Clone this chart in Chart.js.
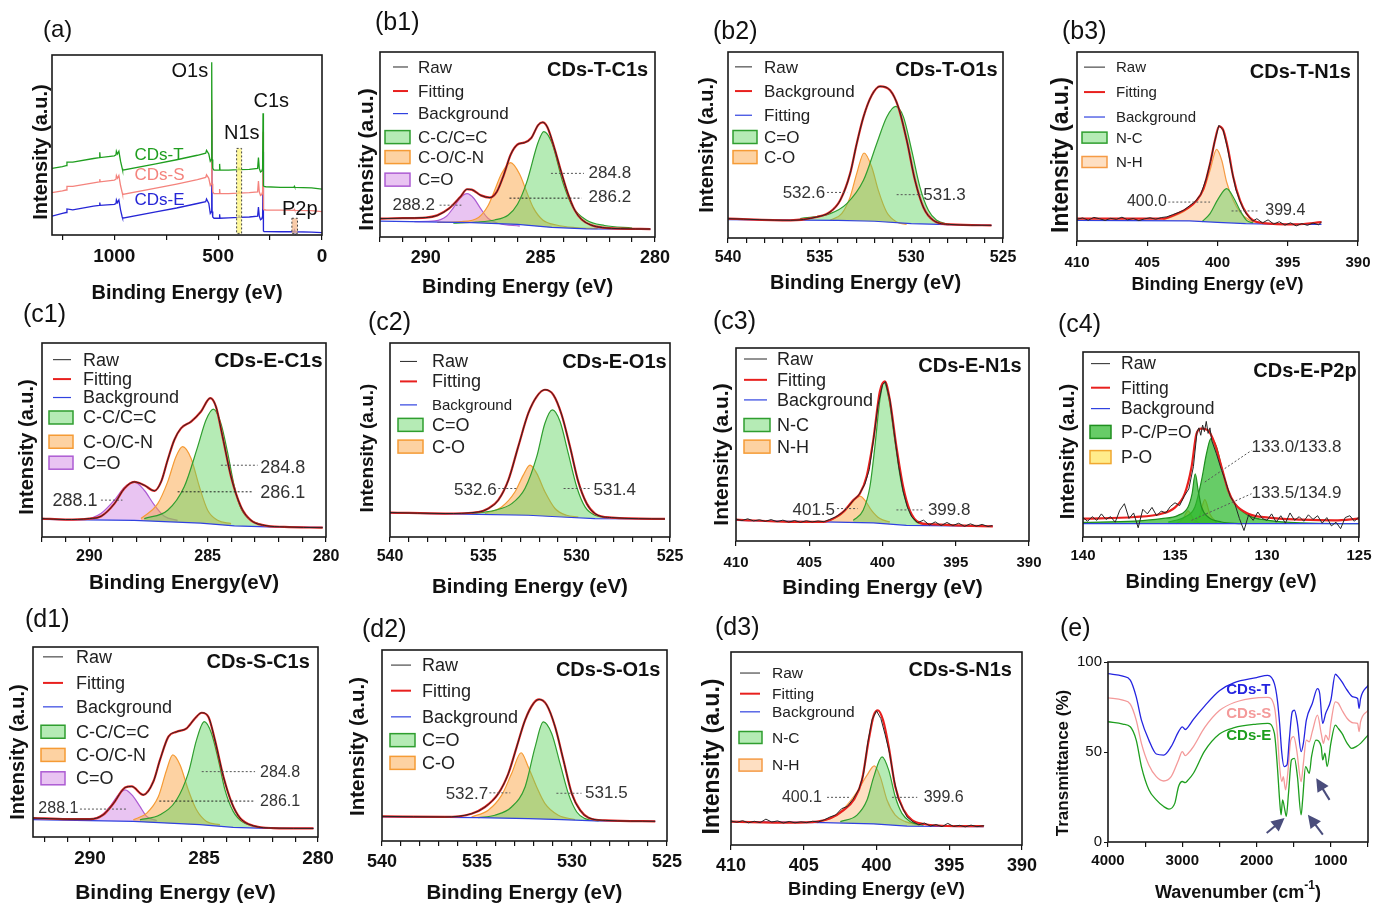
<!DOCTYPE html>
<html>
<head>
<meta charset="utf-8">
<script src="https://cdn.jsdelivr.net/npm/chart.js@4.4.1/dist/chart.umd.min.js"></script>
<style>
html, body { margin: 0; padding: 0; background: #fff; }
#fig { position: relative; width: 1373px; height: 904px; overflow: hidden; background: #fff; }
#fig canvas { position: absolute; }
</style>
</head>
<body>
<div id="fig">
  <canvas id="pa"></canvas><canvas id="pb1"></canvas><canvas id="pb2"></canvas><canvas id="pb3"></canvas>
  <canvas id="pc1"></canvas><canvas id="pc2"></canvas><canvas id="pc3"></canvas><canvas id="pc4"></canvas>
  <canvas id="pd1"></canvas><canvas id="pd2"></canvas><canvas id="pd3"></canvas><canvas id="pe"></canvas>
</div>
<script>
// ---- (a) survey spectra: binding energy and offset intensities (% of panel height)
var svE  = [1300,1250,1232,1228,1200,1100,1072,1070,1068,1000,992,990,985,978,970,962,960,800,700,600,560,556,545,538,533,531,529,526,520,495,493,491,450,402,400,398,350,310,306,302,296,290,286,284,282,279,270,200,135,133,131,50,0];
var svT  = [37.0,38.0,38.5,40.5,40.5,42.5,43.0,46.0,43.0,44.0,44.5,46.5,45.0,46.5,41.0,37.0,36.0,39.5,41.8,44.3,45.5,47.0,45.0,41.0,42.0,96.0,42.0,37.0,36.0,36.0,39.5,36.0,36.0,36.3,37.5,36.3,36.5,37.0,43.0,37.0,35.0,35.5,37.0,67.6,27.5,27.0,26.8,26.5,26.5,27.0,26.5,26.2,25.5];
var svS  = [23.5,24.5,25.0,27.0,27.0,29.0,29.5,31.0,29.5,30.5,31.0,33.0,31.5,33.0,27.5,23.5,22.5,26.0,28.3,30.8,32.0,33.5,31.5,27.5,28.5,75.0,28.5,24.0,23.0,23.0,25.5,23.0,23.0,23.3,24.5,23.3,23.5,24.0,30.0,24.0,22.0,22.5,24.0,57.4,14.5,14.0,13.9,13.8,13.7,14.2,13.7,13.5,13.0];
var svEE = [10.5,12.0,12.5,14.5,14.0,16.0,16.5,18.0,16.5,17.0,17.5,19.5,18.0,19.5,14.0,10.0,9.3,12.8,15.0,17.5,18.5,20.0,17.5,12.0,13.0,64.0,13.0,10.0,9.3,9.3,11.5,9.3,9.5,9.8,11.0,9.8,10.0,10.5,15.5,10.5,8.5,9.0,10.5,46.3,2.2,1.9,1.9,1.8,1.8,2.6,1.8,1.6,1.3];
var svN1sBox = [411, 387, 0.9, 48.1];
var svP2pBox = [145, 118, 0.9, 9.3];

// ---- (b1) CDs-T C1s
var b1Fit = [[292,9.9],[291,10.2],[290,10.5],[289.5,11.7],[289,15.3],[288.5,21.6],[288.2,25.8],[288,25.6],[287.6,22.5],[287.2,21.3],[286.9,24.5],[286.6,33.5],[286.3,44.5],[286,50.0],[285.7,51.0],[285.4,53.5],[285.1,60.5],[284.9,62.0],[284.7,59.5],[284.4,48.5],[284.1,35.5],[283.8,23.5],[283.5,14.5],[283.2,9.5],[282.8,6.5],[282.3,5.1],[281.5,4.5],[280.2,4.3]];
var b1Bg  = [[292,8.6],[288,7.8],[286,6.8],[284.5,5.2],[283,4.4],[280.2,4.2]];
var b1CC  = [[288.8,7.5],[287.8,8.1],[287,9.2],[286.4,11.9],[286,17.7],[285.6,29.5],[285.1,51.2],[284.85,57.0],[284.5,50.9],[284,28.7],[283.6,16.5],[283,9.2],[282.2,6.2],[281,4.8]];
var b1CO  = [[289.5,7.9],[288.5,8.3],[287.7,10.6],[287.3,16.6],[287,25.1],[286.7,34.2],[286.3,40.2],[285.9,33.8],[285.6,24.4],[285.3,15.6],[284.9,9.2],[284.3,6.5],[283.5,5.1],[282.5,4.5]];
var b1CdO = [[290.5,8.3],[289.6,8.7],[289.1,11.2],[288.8,15.8],[288.5,21.1],[288.2,23.4],[287.9,20.8],[287.6,15.2],[287.3,10.3],[286.8,7.3],[285.9,5.9]];

// ---- (b2) CDs-T O1s
var b2Fit = [[540,10.4],[536.6,9.5],[535.15,11.3],[534.43,14.0],[533.88,20.3],[533.34,34.6],[532.98,50.7],[532.61,65.1],[532.16,76.7],[531.71,81.5],[531.16,79.4],[530.71,70.4],[530.25,52.5],[529.8,31.0],[529.35,16.7],[528.8,9.5],[527.9,7.3],[525.63,6.8]];
var b2Bg  = [[540,9.9],[534,9.5],[532,9.0],[530,7.7],[528,7.2],[525.63,6.8]];
var b2CdO = [[536.06,10.4],[534.43,13.1],[533.52,18.5],[532.61,31.0],[531.89,50.7],[531.34,65.1],[530.85,70.8],[530.43,65.1],[529.98,47.1],[529.53,27.4],[529.07,14.9],[528.62,9.5],[527.9,7.3]];
var b2CO  = [[534.43,9.5],[533.8,13.1],[533.34,22.0],[532.98,34.6],[532.58,45.7],[532.16,38.2],[531.8,25.6],[531.35,14.0],[530.8,8.6],[530.26,7.3]];

// ---- (b3) CDs-T N1s
var b3Raw = [[410,11.5],[409.6,12.2],[409.2,11.0],[408.8,12.5],[408.4,11.8],[408,10.9],[407.6,12.0],[407.2,11.4],[406.8,12.6],[406.4,11.2],[406,11.9],[405.6,10.8],[405.2,11.7],[404.8,12.3],[404.4,11.5],[404,12.4],[403.6,12.8],[403.2,13.9],[402.8,15.0],[402.4,16.3],[402,18.6],[401.6,20.8],[401.2,24.5],[400.8,33.0],[400.5,42.0],[400.2,52.8],[399.9,61.2],[399.6,58.8],[399.3,49.5],[399,38.0],[398.7,27.5],[398.4,21.0],[398.1,16.0],[397.8,13.0],[397.5,10.5],[397.2,11.8],[396.8,9.6],[396.4,11.2],[396,9.0],[395.6,10.2],[395.2,8.4],[394.8,9.6],[394.4,8.0],[394,9.2],[393.6,8.3],[393.2,9.5],[392.8,8.6],[392.6,10.0]];
var b3Fit = [[410,11.8],[406,11.8],[403.85,11.8],[403.14,13.6],[402.19,17.1],[401.48,21.5],[401,27.7],[400.53,40.9],[400.18,53.3],[399.89,60.7],[399.59,58.6],[399.23,48.0],[398.88,33.9],[398.4,21.5],[397.93,14.5],[397.46,10.9],[396.75,9.5],[394.38,8.8],[392.6,10.0]];
var b3Bg  = [[410,10.9],[402,10.6],[400,9.9],[398,9.2],[395,8.8],[392.6,8.8]];
var b3NC  = [[401.12,10.1],[400.53,14.5],[399.94,22.4],[399.35,27.7],[398.88,23.3],[398.4,16.2],[397.93,10.9],[397.46,9.5]];
var b3NH  = [[403.85,11.3],[402.66,14.5],[401.72,19.4],[401,26.8],[400.53,37.4],[400.06,48.5],[399.7,42.7],[399.35,31.2],[398.88,21.5],[398.4,15.3],[397.69,10.9],[396.98,9.5]];

// ---- (c1) CDs-E C1s
var c1Fit = [[292,9.5],[291,9.0],[290,9.5],[289.5,10.7],[288.94,17.2],[288.52,25.0],[288.1,28.4],[287.68,26.7],[287.25,23.8],[286.97,28.4],[286.69,39.7],[286.41,50.0],[286.13,56.0],[285.7,59.5],[285.28,64.7],[284.89,71.6],[284.65,67.2],[284.37,51.7],[284.01,31.0],[283.59,15.5],[283.17,8.6],[282.61,6.0],[281.76,5.2],[280.14,4.8]];
var c1Bg  = [[292,9.1],[288.1,8.6],[285.3,7.2],[283.87,5.7],[282.46,5.2],[280.14,5.0]];
var c1CC  = [[287.68,9.5],[286.69,13.8],[285.99,25.9],[285.42,46.6],[285.07,60.3],[284.76,65.9],[284.44,58.6],[284.15,43.1],[283.87,25.9],[283.59,14.7],[283.17,8.6],[282.61,6.0]];
var c1CO  = [[287.82,9.5],[287.11,17.2],[286.69,28.4],[286.34,41.4],[286.06,46.6],[285.7,40.5],[285.35,25.9],[285,13.8],[284.58,8.6],[284.01,6.9]];
var c1CdO = [[290.07,9.0],[289.51,12.1],[288.94,19.0],[288.52,25.5],[288.1,28.4],[287.68,24.1],[287.25,16.4],[286.83,10.7],[286.27,8.6]];

// ---- (c2) CDs-E O1s
var c2Fit = [[540,12.6],[537.05,12.1],[535.27,12.9],[534.73,14.7],[534.2,19.0],[533.66,29.3],[533.13,46.6],[532.59,63.8],[532.14,72.4],[531.7,75.9],[531.25,73.3],[530.8,62.9],[530.36,46.6],[529.91,28.4],[529.46,17.2],[529.02,12.1],[528.13,10.0],[525.27,9.3]];
var c2Bg  = [[540,12.4],[535.27,11.7],[532.59,11.2],[530.8,10.3],[529.02,9.5],[525.27,9.3]];
var c2CdO = [[535.63,12.1],[534.38,13.8],[533.48,17.2],[532.77,25.0],[532.14,41.4],[531.7,58.6],[531.3,65.5],[530.89,59.5],[530.45,43.1],[530,25.9],[529.55,15.5],[529.02,11.2],[528.3,10.0]];
var c2CO  = [[534.91,12.1],[534.02,15.5],[533.3,23.3],[532.86,31.9],[532.5,37.1],[532.14,32.8],[531.7,23.3],[531.16,14.7],[530.54,11.2],[529.91,10.3]];

// ---- (c3) CDs-E N1s
var c3Raw = [[410,11.3],[409.6,10.6],[409.2,11.5],[408.8,10.4],[408.4,11.0],[408,10.2],[407.6,11.1],[407.2,10.0],[406.8,10.8],[406.4,9.8],[406,10.6],[405.6,9.7],[405.2,10.5],[404.8,9.9],[404.4,10.4],[404,10.0],[403.6,11.2],[403.2,12.5],[402.8,14.4],[402.4,17.2],[402,21.0],[401.6,24.0],[401.2,29.5],[400.9,37.0],[400.6,53.5],[400.3,70.5],[400,81.0],[399.8,82.5],[399.5,73.5],[399.2,56.0],[398.9,39.0],[398.6,26.0],[398.3,17.5],[398,12.5],[397.6,9.5],[397.2,10.8],[396.8,8.3],[396.4,9.9],[396,8.0],[395.6,9.6],[395.2,8.0],[394.8,9.2],[394.4,7.6],[394,8.9],[393.6,7.7],[393.2,8.6],[392.8,7.5],[392.5,8.0]];
var c3Fit = [[410,11.1],[406.3,9.9],[404.04,9.9],[403.36,11.6],[402.68,15.1],[402,21.1],[401.54,24.6],[401.09,33.3],[400.63,52.3],[400.18,77.5],[399.84,82.7],[399.5,73.1],[399.05,48.9],[398.59,28.1],[398.14,15.9],[397.46,9.4],[396.78,8.7],[394.97,8.1],[392.47,7.6]];
var c3Bg  = [[410,10.7],[404.04,9.9],[400.63,9.4],[398.37,8.1],[394.97,7.8],[392.47,7.6]];
var c3NC  = [[402,10.7],[401.32,15.9],[400.86,28.1],[400.52,48.9],[400.18,73.1],[399.89,82.1],[399.55,73.1],[399.16,52.3],[398.71,29.8],[398.25,16.8],[397.69,9.9],[397.01,8.7]];
var c3NH  = [[403.58,10.7],[402.9,13.3],[402.22,18.5],[401.81,22.0],[401.54,23.2],[401.2,21.1],[400.75,15.9],[400.18,11.6],[399.5,9.9]];

// ---- (c4) CDs-E P2p
var c4Raw = [[140,10.5],[139.75,8.5],[139.5,11.0],[139.25,9.0],[139,12.5],[138.75,9.5],[138.5,11.0],[138.25,8.0],[138,14.5],[137.75,18.0],[137.5,10.0],[137.25,13.0],[137,5.0],[136.75,15.0],[136.5,12.5],[136.25,16.0],[136,11.5],[135.75,14.0],[135.5,13.0],[135.25,16.5],[135,18.5],[134.75,17.0],[134.5,22.0],[134.25,26.0],[134,38.0],[133.8,57.0],[133.7,59.0],[133.6,55.0],[133.5,60.5],[133.4,57.0],[133.3,62.5],[133.2,56.0],[133.1,59.0],[133,52.0],[132.75,45.0],[132.5,37.0],[132.25,30.0],[132,22.0],[131.75,18.0],[131.5,10.0],[131.25,3.5],[131,12.0],[130.75,9.0],[130.5,13.5],[130.25,10.0],[130,9.0],[129.75,12.5],[129.5,8.0],[129.25,11.5],[129,7.5],[128.75,13.0],[128.5,9.0],[128.25,11.0],[128,8.5],[127.75,12.0],[127.5,9.5],[127.25,11.5],[127,7.5],[126.75,10.5],[126.5,6.0],[126.25,8.0],[126,4.5],[125.75,10.5],[125.5,11.5],[125.25,8.5],[125,11.0]];
var c4Fit = [[140,9.9],[137.19,10.8],[135.74,12.6],[135.01,15.9],[134.47,23.4],[134.1,37.8],[133.83,55.9],[133.56,58.6],[133.2,57.7],[132.84,50.5],[132.47,37.8],[132.11,25.2],[131.75,18.0],[131.02,12.6],[129.93,10.5],[128.12,9.4],[126.31,9.0],[125,9.9]];
var c4Bg  = [[140,7.2],[125,7.2]];
var c4PC1 = [[140,7.9],[137.19,8.6],[135.74,9.9],[134.83,11.7],[134.29,16.2],[134.07,23.4],[133.9,34.2],[133.74,25.2],[133.56,16.2],[133.2,10.8],[132.47,8.1],[131.38,7.2]];
var c4PC2 = [[135.37,8.1],[134.47,10.8],[133.92,16.2],[133.56,30.6],[133.29,45.0],[133.05,53.2],[132.74,48.6],[132.47,37.8],[132.11,25.2],[131.75,18.0],[131.02,11.7],[129.93,9.0],[128.12,7.6],[125,7.2]];
var c4PO1 = [[134.92,7.2],[134.56,9.9],[134.29,14.1],[134.01,9.9],[133.65,7.2]];
var c4PO2 = [[134.01,7.2],[133.65,11.7],[133.38,20.2],[133.11,12.6],[132.74,7.6]];

// ---- (d1) CDs-S C1s
var d1Fit = [[292.5,10.0],[291,9.4],[290,9.4],[289.42,11.7],[288.98,17.5],[288.46,26.0],[288.17,26.6],[287.66,22.2],[287.22,29.2],[286.93,40.6],[286.56,52.8],[286.2,55.4],[285.76,57.2],[285.4,62.4],[285.1,65.4],[284.81,63.3],[284.52,51.0],[284.15,31.8],[283.78,17.8],[283.42,10.0],[282.84,5.9],[281.96,4.7],[280.2,4.5]];
var d1Bg  = [[292.5,9.1],[288.1,8.2],[285.18,6.5],[283.72,5.1],[282.26,4.5],[280.2,4.5]];
var d1CC  = [[287.81,9.1],[286.93,11.7],[286.2,19.6],[285.69,33.6],[285.33,51.0],[284.99,60.7],[284.67,54.5],[284.37,40.6],[284.08,24.8],[283.72,13.5],[283.28,7.7],[282.55,5.2]];
var d1CO  = [[288.1,9.1],[287.51,12.6],[287,21.3],[286.64,35.3],[286.37,43.2],[286.05,37.9],[285.69,24.8],[285.33,14.3],[284.89,8.2],[284.3,6.5]];
var d1CdO = [[290.15,9.1],[289.56,10.8],[289.12,16.1],[288.76,22.2],[288.46,24.8],[288.1,21.3],[287.81,16.1],[287.51,10.8],[287.07,8.7]];

// ---- (d2) CDs-S O1s
var d2Fit = [[540,12.9],[536.69,12.6],[535.29,14.3],[534.58,17.8],[533.88,24.8],[533.35,35.3],[532.91,49.3],[532.47,63.3],[532.03,72.0],[531.73,74.1],[531.33,71.2],[530.89,59.8],[530.45,42.3],[530.01,24.8],[529.57,16.1],[529.13,12.2],[528.25,10.8],[525.62,10.3]];
var d2Bg  = [[540,12.6],[534.94,12.2],[532.3,11.7],[530.54,11.2],[528.78,10.5],[525.62,10.3]];
var d2CdO = [[534.94,12.2],[534.06,13.5],[533.18,17.8],[532.47,28.3],[531.94,49.3],[531.51,62.4],[531.07,56.3],[530.63,40.6],[530.19,24.8],[529.75,15.2],[529.31,11.7],[528.6,10.5]];
var d2CO  = [[535.29,12.6],[534.41,16.1],[533.7,24.0],[533.18,35.3],[532.68,46.2],[532.3,38.8],[531.86,28.3],[531.42,19.6],[530.72,13.5],[529.84,11.2]];

// ---- (d3) CDs-S N1s
var d3Raw = [[410,12.4],[409.6,11.8],[409.2,12.6],[408.8,11.5],[408.4,12.3],[408,11.6],[407.6,13.4],[407.2,11.9],[406.8,12.5],[406.4,11.4],[406,12.2],[405.6,11.5],[405.2,12.0],[404.8,11.6],[404.4,12.3],[404,12.0],[403.6,13.0],[403.2,14.5],[402.8,15.6],[402.4,18.8],[402,20.0],[401.6,23.8],[401.2,29.0],[400.9,36.5],[400.6,53.0],[400.3,65.0],[400,69.5],[399.7,65.5],[399.4,57.0],[399.1,47.5],[398.8,34.0],[398.5,24.0],[398.2,19.0],[397.9,14.5],[397.5,12.0],[397.1,10.5],[396.7,11.4],[396.3,9.8],[395.9,10.6],[395.5,9.5],[395.1,11.2],[394.7,9.6],[394.3,10.2],[393.9,9.4],[393.5,10.3],[393.1,9.5],[392.6,10.0]];
var d3Fit = [[410,12.1],[405.92,11.6],[404.09,12.1],[403.17,13.8],[402.26,18.1],[401.57,23.3],[401,33.6],[400.54,54.3],[400.19,67.2],[399.9,69.8],[399.55,64.7],[399.16,50.9],[398.71,30.2],[398.13,18.1],[397.56,12.9],[396.76,10.9],[394.47,9.8],[392.63,9.8]];
var d3Bg  = [[410,12.1],[403.63,11.6],[400.19,10.9],[397.9,9.8],[392.63,9.5]];
var d3NC  = [[402.49,12.1],[401.34,15.5],[400.65,23.3],[400.19,35.3],[399.62,45.7],[399.16,38.8],[398.71,25.0],[398.25,16.4],[397.68,12.1],[396.76,10.3]];
var d3NH  = [[404.09,11.6],[402.94,14.7],[402.03,20.7],[401.34,27.6],[400.65,36.2],[400.15,41.0],[399.74,35.3],[399.28,23.3],[398.71,15.5],[398.02,12.1],[396.99,10.3]];

// ---- (e) FTIR transmittance (%)
var ftT = [[4000,93.5],[3800,92.1],[3700,89.9],[3620,80.6],[3550,67.7],[3450,56.6],[3350,48.9],[3250,48.3],[3150,53.0],[3050,61.3],[3000,64.0],[2960,62.5],[2920,64.0],[2850,68.1],[2700,75.5],[2500,84.0],[2300,88.5],[2000,91.3],[1850,92.6],[1760,88.0],[1720,78.8],[1690,65.9],[1660,49.3],[1630,41.9],[1590,42.8],[1560,56.6],[1520,72.3],[1490,73.2],[1450,65.9],[1400,50.2],[1370,54.8],[1330,67.7],[1250,76.9],[1180,85.2],[1150,82.5],[1110,65.9],[1070,71.4],[1000,78.8],[940,93.2],[900,91.7],[850,88.9],[780,84.3],[700,80.6],[640,79.7],[620,74.2],[600,79.7],[500,87.1]];
var ftS = [[4000,80.1],[3800,78.8],[3700,76.6],[3620,67.7],[3550,54.8],[3450,42.8],[3350,36.3],[3250,33.9],[3150,36.3],[3050,45.6],[3000,50.2],[2960,48.0],[2920,49.3],[2850,53.0],[2700,63.5],[2500,73.0],[2300,77.5],[2000,80.1],[1850,80.3],[1760,75.1],[1720,60.3],[1690,41.9],[1660,33.6],[1640,36.3],[1610,29.0],[1580,38.2],[1540,56.6],[1500,58.5],[1460,51.1],[1400,33.6],[1370,43.7],[1330,56.6],[1290,55.7],[1250,61.3],[1180,70.5],[1130,60.3],[1100,54.8],[1070,59.4],[1030,56.6],[1000,65.9],[940,77.9],[900,77.1],[850,73.2],[780,68.6],[700,66.2],[640,65.9],[620,61.3],[600,66.8],[500,73.2]];
var ftE = [[4000,66.8],[3800,65.5],[3700,64.0],[3620,56.6],[3550,41.9],[3450,29.0],[3350,23.4],[3250,19.7],[3180,18.3],[3100,21.6],[3050,30.8],[3000,33.6],[2960,33.0],[2920,34.5],[2850,38.2],[2700,50.5],[2500,60.0],[2300,63.5],[2000,65.5],[1850,65.9],[1760,60.3],[1720,41.9],[1690,23.4],[1670,15.1],[1650,23.4],[1620,17.9],[1600,14.2],[1570,27.1],[1530,45.6],[1490,46.5],[1450,36.3],[1400,15.1],[1380,23.4],[1340,41.9],[1290,38.2],[1260,47.4],[1200,56.6],[1130,53.0],[1110,45.6],[1080,49.3],[1050,41.9],[1000,54.8],[940,64.9],[900,63.1],[850,60.3],[780,54.8],[720,52.0],[660,53.0],[600,54.8],[500,59.4]];
var ftArrows = [[1864,5.0,1623,13.3],[1018,23.4,1197,35.4],[1108,4.1,1309,15.1]];

// ---------------------------------------------------------------
var FONT = '"Liberation Sans", Arial, Helvetica, sans-serif';
Chart.defaults.font.family = FONT;
Chart.defaults.color = '#111';

var C_RAW = '#262626', C_FIT = '#e8201e', C_BG = '#3042e0';
var GREEN  = { line: '#2f9e2f', fill: 'rgba(90,210,90,0.45)' };
var ORANGE = { line: '#f59b35', fill: 'rgba(252,165,70,0.5)' };
var PEACH  = { line: '#f59b45', fill: 'rgba(252,185,120,0.45)' };
var PURPLE = { line: '#ad5cd3', fill: 'rgba(206,125,226,0.45)' };
var DGREEN = { line: '#1f8f1f', fill: 'rgba(45,185,45,0.72)' };
var YELLOW = { line: '#f0a830', fill: 'rgba(255,228,90,0.7)' };

var RAW = { label: 'Raw', line: C_RAW, w: 1 };
var FIT = { label: 'Fitting', line: C_FIT, w: 2 };
var BG  = { label: 'Background', line: C_BG, w: 1.2 };

function pts(a) { return a.map(function (p) { return { x: p[0], y: p[1] }; }); }

function line(d, color, w, smooth) {
  return { data: pts(d), borderColor: color, borderWidth: w, pointRadius: 0, fill: false,
           tension: 0, cubicInterpolationMode: smooth ? 'monotone' : 'default' };
}

function comp(d, col) {
  return { data: pts(d), borderColor: col.line, borderWidth: 1.2, backgroundColor: col.fill,
           fill: 2, pointRadius: 0, cubicInterpolationMode: 'monotone' };
}

function drawTitle(ctx, xt, cx, cy) {
  var parts = xt.parts || [{ t: xt.t }];
  var total = 0;
  parts.forEach(function (p) {
    ctx.font = 'bold ' + (p.s || xt.s) + 'px ' + FONT;
    p.w = ctx.measureText(p.t).width; total += p.w;
  });
  var xx = cx - total / 2;
  ctx.textAlign = 'left'; ctx.fillStyle = '#111';
  parts.forEach(function (p) {
    ctx.font = 'bold ' + (p.s || xt.s) + 'px ' + FONT;
    ctx.fillText(p.t, xx, cy + (p.dy || 0)); xx += p.w;
  });
}

var decor = {
  id: 'decor',
  afterDraw: function (chart, args, o) {
    var ctx = chart.ctx, a = chart.chartArea, sx = chart.scales.x, sy = chart.scales.y;
    var X = function (v) { return sx.getPixelForValue(v); };
    var Y = function (v) { return sy.getPixelForValue(v); };
    ctx.save();

    (o.boxes || []).forEach(function (b) {
      var x0 = X(b.r[0]), x1 = X(b.r[1]), y0 = Y(b.r[2]), y1 = Y(b.r[3]);
      var l = Math.min(x0, x1), t = Math.min(y0, y1), w = Math.abs(x1 - x0), h = Math.abs(y1 - y0);
      ctx.fillStyle = b.f; ctx.fillRect(l, t, w, h);
      ctx.setLineDash([2, 2]); ctx.strokeStyle = '#444'; ctx.lineWidth = 1; ctx.strokeRect(l, t, w, h);
      ctx.setLineDash([]);
    });

    ctx.strokeStyle = '#1a1a1a'; ctx.lineWidth = 1.6;
    ctx.strokeRect(a.left, a.top, a.right - a.left, a.bottom - a.top);

    (o.leaders || []).forEach(function (l) {
      ctx.beginPath(); ctx.setLineDash(l.dash || [2, 2]);
      ctx.strokeStyle = l.c || '#555'; ctx.lineWidth = 1;
      ctx.moveTo(X(l.p[0]), Y(l.p[1])); ctx.lineTo(X(l.p[2]), Y(l.p[3])); ctx.stroke();
    });
    ctx.setLineDash([]);

    (o.arrows || []).forEach(function (ar) {
      var x1 = X(ar[0]), y1 = Y(ar[1]), x2 = X(ar[2]), y2 = Y(ar[3]);
      var ang = Math.atan2(y2 - y1, x2 - x1), hl = 13, hw = 6.5;
      var c = Math.cos(ang), s = Math.sin(ang);
      ctx.strokeStyle = '#4a4d7c'; ctx.fillStyle = '#4a4d7c'; ctx.lineWidth = 2;
      ctx.beginPath(); ctx.moveTo(x1, y1); ctx.lineTo(x2 - hl * 0.8 * c, y2 - hl * 0.8 * s); ctx.stroke();
      ctx.beginPath(); ctx.moveTo(x2, y2);
      ctx.lineTo(x2 - hl * c + hw * s, y2 - hl * s - hw * c);
      ctx.lineTo(x2 - hl * c - hw * s, y2 - hl * s + hw * c);
      ctx.closePath(); ctx.fill();
    });

    ctx.textBaseline = 'middle';
    (o.notes || []).forEach(function (n) {
      ctx.font = (n.b ? 'bold ' : '') + n.s + 'px ' + FONT;
      ctx.fillStyle = n.c || '#333'; ctx.textAlign = n.a || 'left';
      ctx.fillText(n.t, X(n.x), Y(n.y));
    });

    if (o.legend) {
      var lg = o.legend;
      lg.items.forEach(function (it, i) {
        var yy = Y(lg.rows[i]);
        if (it.box) {
          var bx = a.left + lg.bx[0], bw = lg.bx[1] - lg.bx[0];
          ctx.fillStyle = '#fff'; ctx.fillRect(bx, yy - lg.bh / 2, bw, lg.bh);
          ctx.fillStyle = it.box.fill; ctx.fillRect(bx, yy - lg.bh / 2, bw, lg.bh);
          ctx.strokeStyle = it.box.line; ctx.lineWidth = 1.5; ctx.strokeRect(bx, yy - lg.bh / 2, bw, lg.bh);
        } else {
          ctx.beginPath(); ctx.strokeStyle = it.line; ctx.lineWidth = it.w;
          ctx.moveTo(a.left + lg.lx[0], yy); ctx.lineTo(a.left + lg.lx[1], yy); ctx.stroke();
        }
        ctx.font = ((lg.sz && lg.sz[i]) || lg.s) + 'px ' + FONT;
        ctx.fillStyle = '#222'; ctx.textAlign = 'left';
        ctx.fillText(it.label, a.left + lg.tx, yy + 1);
      });
    }

    var cx = (a.left + a.right) / 2, cy = (a.top + a.bottom) / 2;
    if (o.xt) drawTitle(ctx, o.xt, cx, a.bottom + o.xt.dy);
    if (o.yt) {
      ctx.save();
      ctx.translate(a.left - o.yt.dx, cy + o.yt.dy); ctx.rotate(-Math.PI / 2);
      ctx.font = 'bold ' + o.yt.s + 'px ' + FONT; ctx.textAlign = 'center'; ctx.fillStyle = '#111';
      ctx.fillText(o.yt.t, 0, 0);
      ctx.restore();
    }
    if (o.tag) {
      ctx.font = o.tag.s + 'px ' + FONT; ctx.textAlign = 'left'; ctx.fillStyle = '#111';
      ctx.fillText(o.tag.t, a.left + o.tag.dx, a.top + o.tag.dy);
    }
    ctx.restore();
  }
};

// tick positions along an axis, from its range and step
function tickList(min, max, step) {
  var t = [];
  for (var v = Math.ceil(min / step - 1e-9) * step; v <= max + 1e-9; v += step) {
    t.push({ value: Math.round(v * 1000) / 1000 });
  }
  return t;
}

function make(id, box, sets, ax, showY, deco) {
  var cv = document.getElementById(id);
  var L = 70, T = 50, R = 30, B = 72, XH = 40, YW = showY ? 38 : 0;
  var w = box[2] - box[0] + L + R, h = box[3] - box[1] + T + B;
  cv.width = w; cv.height = h;
  cv.style.left = (box[0] - L) + 'px'; cv.style.top = (box[1] - T) + 'px';
  cv.style.width = w + 'px'; cv.style.height = h + 'px';
  var yScale = showY ? {
    min: 0, max: 100,
    afterFit: function (s) { s.width = YW; },
    afterBuildTicks: function (s) { s.ticks = tickList(0, 100, 50); },
    border: { display: false },
    grid: { drawOnChartArea: false, drawTicks: true, tickLength: 4, color: '#111' },
    ticks: { color: '#111', font: { size: 15 }, padding: 2 }
  } : { min: 0, max: 100, display: false };
  new Chart(cv, {
    type: 'line',
    data: { datasets: sets },
    plugins: [decor],
    options: {
      responsive: false, animation: false, devicePixelRatio: 1, events: [],
      layout: { padding: { left: L - YW, top: T, right: R, bottom: B - XH } },
      plugins: { legend: { display: false }, tooltip: { enabled: false }, decor: deco },
      scales: {
        x: {
          type: 'linear', reverse: true, min: ax.min, max: ax.max,
          afterFit: function (s) { s.height = XH; },
          afterBuildTicks: function (s) { s.ticks = tickList(ax.min, ax.max, ax.step); },
          border: { display: false },
          grid: { drawOnChartArea: false, drawTicks: true, tickLength: 5, color: '#111', lineWidth: 1.2 },
          ticks: {
            autoSkip: false, maxRotation: 0, padding: ax.pad || 5,
            color: '#111', font: { size: ax.size, weight: 'bold' },
            callback: function (v) { return Math.abs(v % ax.major) < 1e-6 ? String(v) : ''; }
          }
        },
        y: yScale
      }
    }
  });
}

function xps(id, box, ax, raw, fit, bg, comps, deco) {
  var sets = [
    line(raw, C_RAW, 1, raw === fit),
    line(fit, C_FIT, 2.2, true),
    line(bg, C_BG, 1.2, false)
  ];
  comps.forEach(function (c) { sets.push(comp(c[0], c[1])); });
  make(id, box, sets, ax, false, deco);
}

function zip(xs, ys) { return xs.map(function (x, i) { return [x, ys[i]]; }); }

// (a)
make('pa', [52, 55, 322, 235], [
  line(zip(svE, svT), '#1f9e1f', 1.3, false),
  line(zip(svE, svS), '#f4837d', 1.3, false),
  line(zip(svE, svEE), '#2626d6', 1.3, false)
], { min: 0, max: 1300, step: 250, major: 500, size: 19 }, false, {
  boxes: [{ r: svN1sBox, f: 'rgba(255,245,110,0.7)' }, { r: svP2pBox, f: 'rgba(246,185,140,0.75)' }],
  notes: [
    { t: 'O1s', x: 548, y: 91, s: 20, a: 'right', c: '#111' },
    { t: 'C1s', x: 330, y: 74, s: 20, c: '#111' },
    { t: 'N1s', x: 472, y: 56.5, s: 20, c: '#111' },
    { t: 'P2p', x: 193, y: 14.3, s: 20, c: '#111' },
    { t: 'CDs-T', x: 903, y: 44.4, s: 17, c: '#1f9e1f' },
    { t: 'CDs-S', x: 903, y: 33.3, s: 17, c: '#f4837d' },
    { t: 'CDs-E', x: 903, y: 19.4, s: 17, c: '#2626d6' }
  ],
  tag: { t: '(a)', dx: -9, dy: -25, s: 24 },
  xt: { t: 'Binding Energy (eV)', dy: 58, s: 20 },
  yt: { t: 'Intensity (a.u.)', dx: 11, dy: 7, s: 20 }
});

// (b1)
xps('pb1', [380, 52, 655, 237], { min: 280, max: 292, step: 1, major: 5, size: 18 },
  b1Fit, b1Fit, b1Bg, [[b1CC, GREEN], [b1CO, ORANGE], [b1CdO, PURPLE]], {
  legend: { lx: [13, 28], bx: [5, 30], bh: 13, tx: 38, s: 17, rows: [91.9, 78.9, 66.7, 54, 43.2, 31],
    items: [RAW, FIT, BG, { label: 'C-C/C=C', box: GREEN }, { label: 'C-O/C-N', box: ORANGE }, { label: 'C=O', box: PURPLE }] },
  notes: [
    { t: '284.8', x: 282.9, y: 34.6, s: 17 },
    { t: '286.2', x: 282.9, y: 21.3, s: 17 },
    { t: '288.2', x: 289.6, y: 17, s: 17, a: 'right' },
    { t: 'CDs-T-C1s', x: 280.3, y: 90, s: 20, b: true, a: 'right', c: '#111' }
  ],
  leaders: [{ p: [284.54, 34.4, 283.1, 34.4] }, { p: [286.35, 21.0, 283.2, 21.0], c: '#222' }, { p: [289.4, 17.2, 288.45, 17.2] }],
  tag: { t: '(b1)', dx: -5, dy: -29, s: 25 },
  xt: { t: 'Binding Energy (eV)', dy: 50, s: 20 },
  yt: { t: 'Intensity (a.u.)', dx: 13, dy: 15, s: 21 }
});

// (b2)
xps('pb2', [728, 52, 1003, 238], { min: 525, max: 540, step: 1, major: 5, size: 16 },
  b2Fit, b2Fit, b2Bg, [[b2CdO, GREEN], [b2CO, ORANGE]], {
  legend: { lx: [7, 24], bx: [5, 29], bh: 13, tx: 36, s: 17, rows: [92, 79, 66, 54.3, 43.5],
    items: [RAW, { label: 'Background', line: C_FIT, w: 2 }, { label: 'Fitting', line: C_BG, w: 1.2 },
            { label: 'C=O', box: GREEN }, { label: 'C-O', box: ORANGE }] },
  notes: [
    { t: '532.6', x: 534.7, y: 24.2, s: 17, a: 'right' },
    { t: '531.3', x: 529.35, y: 23, s: 17 },
    { t: 'CDs-T-O1s', x: 525.3, y: 90, s: 20, b: true, a: 'right', c: '#111' }
  ],
  leaders: [{ p: [534.6, 24.5, 533.5, 24.5] }, { p: [530.8, 23.3, 529.45, 23.3] }],
  tag: { t: '(b2)', dx: -15, dy: -20, s: 25 },
  xt: { t: 'Binding Energy (eV)', dy: 45, s: 20 },
  yt: { t: 'Intensity (a.u.)', dx: 21, dy: 0, s: 20 }
});

// (b3)
xps('pb3', [1077, 52, 1358, 241], { min: 390, max: 410, step: 5, major: 5, size: 15, pad: 8 },
  b3Raw, b3Fit, b3Bg, [[b3NC, GREEN], [b3NH, PEACH]], {
  legend: { lx: [7, 28], bx: [5, 30], bh: 11, tx: 39, s: 15, rows: [92, 78.8, 65.6, 54.7, 41.8],
    items: [RAW, FIT, BG, { label: 'N-C', box: GREEN }, { label: 'N-H', box: PEACH }] },
  notes: [
    { t: '400.0', x: 403.6, y: 20.6, s: 16, a: 'right' },
    { t: '399.4', x: 396.6, y: 15.9, s: 16 },
    { t: 'CDs-T-N1s', x: 390.5, y: 89.4, s: 20, b: true, a: 'right', c: '#111' }
  ],
  leaders: [{ p: [403.5, 20.6, 400.53, 20.6] }, { p: [399.0, 15.9, 397.1, 15.9] }],
  tag: { t: '(b3)', dx: -15, dy: -20, s: 25 },
  xt: { t: 'Binding Energy (eV)', dy: 44, s: 18 },
  yt: { t: 'Intensity (a.u.)', dx: 15, dy: 8.5, s: 23 }
});

// (c1)
xps('pc1', [42, 343, 326, 537], { min: 280, max: 292, step: 1, major: 5, size: 16 },
  c1Fit, c1Fit, c1Bg, [[c1CC, GREEN], [c1CO, ORANGE], [c1CdO, PURPLE]], {
  legend: { lx: [11, 29], bx: [7, 31], bh: 13, tx: 41, s: 18, rows: [91.4, 81.4, 71.9, 61.6, 49.1, 38.3],
    items: [RAW, FIT, BG, { label: 'C-C/C=C', box: GREEN }, { label: 'C-O/C-N', box: ORANGE }, { label: 'C=O', box: PURPLE }] },
  notes: [
    { t: '288.1', x: 289.65, y: 18.5, s: 18, a: 'right' },
    { t: '284.8', x: 282.78, y: 35.5, s: 18 },
    { t: '286.1', x: 282.78, y: 22.6, s: 18 },
    { t: 'CDs-E-C1s', x: 280.14, y: 90.5, s: 21, b: true, a: 'right', c: '#111' }
  ],
  leaders: [{ p: [289.51, 19, 288.6, 19] }, { p: [284.44, 37, 282.89, 37] }, { p: [286.27, 23.3, 283.1, 23.3], c: '#222' }],
  tag: { t: '(c1)', dx: -19, dy: -28, s: 25 },
  xt: { t: 'Binding Energy(eV)', dy: 46, s: 20.5 },
  yt: { t: 'Intensity (a.u.)', dx: 15, dy: 7, s: 20 }
});

// (c2)
xps('pc2', [390, 343, 670, 537], { min: 525, max: 540, step: 1, major: 5, size: 16 },
  c2Fit, c2Fit, c2Bg, [[c2CdO, GREEN], [c2CO, ORANGE]], {
  legend: { lx: [10, 27], bx: [8, 33], bh: 13, tx: 42, s: 18, sz: [18, 18, 15, 18, 18], rows: [90.5, 80.2, 68.1, 57.8, 46.6],
    items: [RAW, FIT, BG, { label: 'C=O', box: GREEN }, { label: 'C-O', box: ORANGE }] },
  notes: [
    { t: '532.6', x: 534.29, y: 24.1, s: 17, a: 'right' },
    { t: '531.4', x: 529.1, y: 24.1, s: 17 },
    { t: 'CDs-E-O1s', x: 525.18, y: 89.7, s: 20, b: true, a: 'right', c: '#111' }
  ],
  leaders: [{ p: [534.2, 25, 533.13, 25] }, { p: [530.7, 25, 529.3, 25] }],
  tag: { t: '(c2)', dx: -22, dy: -20, s: 25 },
  xt: { t: 'Binding Energy (eV)', dy: 50, s: 20.5 },
  yt: { t: 'Intensity (a.u.)', dx: 22, dy: 8, s: 19 }
});

// (c3)
xps('pc3', [736, 348, 1029, 541], { min: 390, max: 410, step: 5, major: 5, size: 15, pad: 8 },
  c3Raw, c3Fit, c3Bg, [[c3NC, GREEN], [c3NH, ORANGE]], {
  legend: { lx: [8, 31], bx: [8, 34], bh: 13, tx: 41, s: 18, rows: [94.3, 83.5, 73.1, 60.1, 48.9],
    items: [RAW, FIT, BG, { label: 'N-C', box: GREEN }, { label: 'N-H', box: ORANGE }] },
  notes: [
    { t: '401.5', x: 403.24, y: 15.9, s: 17, a: 'right' },
    { t: '399.8', x: 396.9, y: 15.9, s: 17 },
    { t: 'CDs-E-N1s', x: 390.5, y: 90.5, s: 20, b: true, a: 'right', c: '#111' }
  ],
  leaders: [{ p: [403.1, 16.8, 401.7, 16.8] }, { p: [399.05, 16.1, 397.2, 16.1] }],
  tag: { t: '(c3)', dx: -23, dy: -26, s: 25 },
  xt: { t: 'Binding Energy (eV)', dy: 47, s: 21 },
  yt: { t: 'Intensity (a.u.)', dx: 14, dy: 10, s: 21 }
});

// (c4)
xps('pc4', [1083, 352, 1359, 537], { min: 125, max: 140, step: 1, major: 5, size: 15 },
  c4Raw, c4Fit, c4Bg, [[c4PC1, DGREEN], [c4PC2, DGREEN], [c4PO1, YELLOW], [c4PO2, YELLOW]], {
  legend: { lx: [8, 27], bx: [7, 28], bh: 13, tx: 38, s: 17.5, rows: [93.7, 80.7, 69.4, 56.8, 43.2],
    items: [RAW, FIT, BG, { label: 'P-C/P=O', box: DGREEN }, { label: 'P-O', box: YELLOW }] },
  notes: [
    { t: '133.0/133.8', x: 130.84, y: 48.6, s: 17 },
    { t: '133.5/134.9', x: 130.84, y: 23.4, s: 17 },
    { t: 'CDs-E-P2p', x: 125.13, y: 89.2, s: 20, b: true, a: 'right', c: '#111' }
  ],
  leaders: [{ p: [133.38, 29.7, 130.84, 46.8] }, { p: [134.1, 9.0, 130.84, 23.4] }],
  tag: { t: '(c4)', dx: -25, dy: -27, s: 25 },
  xt: { t: 'Binding Energy (eV)', dy: 45, s: 20 },
  yt: { t: 'Intensity (a.u.)', dx: 15, dy: 7, s: 20 }
});

// (d1)
xps('pd1', [33, 647, 318, 837], { min: 280, max: 292.5, step: 1, major: 5, size: 19 },
  d1Fit, d1Fit, d1Bg, [[d1CC, GREEN], [d1CO, ORANGE], [d1CdO, PURPLE]], {
  legend: { lx: [10, 30], bx: [8, 32], bh: 13, tx: 43, s: 18, rows: [94.8, 81.1, 68.5, 55.4, 43.2, 30.9],
    items: [RAW, FIT, BG, { label: 'C-C/C=C', box: GREEN }, { label: 'C-O/C-N', box: ORANGE }, { label: 'C=O', box: PURPLE }] },
  notes: [
    { t: '288.1', x: 290.51, y: 14.7, s: 16, a: 'right' },
    { t: '284.8', x: 282.54, y: 33.9, s: 16 },
    { t: '286.1', x: 282.54, y: 18.7, s: 16 },
    { t: 'CDs-S-C1s', x: 280.36, y: 92.1, s: 20, b: true, a: 'right', c: '#111' }
  ],
  leaders: [{ p: [290.44, 14.7, 288.39, 14.7] }, { p: [285.1, 34.4, 282.76, 34.4] }, { p: [286.96, 18.9, 282.76, 18.9], c: '#222' }],
  tag: { t: '(d1)', dx: -8, dy: -27, s: 25 },
  xt: { t: 'Binding Energy (eV)', dy: 56, s: 21 },
  yt: { t: 'Intensity (a.u.)', dx: 15, dy: 10, s: 20 }
});

// (d2)
xps('pd2', [382, 650, 667, 841], { min: 525, max: 540, step: 1, major: 5, size: 18 },
  d2Fit, d2Fit, d2Bg, [[d2CdO, GREEN], [d2CO, ORANGE]], {
  legend: { lx: [9, 29], bx: [8, 33], bh: 13, tx: 40, s: 18, rows: [92.1, 78.7, 65, 52.8, 40.9],
    items: [RAW, FIT, BG, { label: 'C=O', box: GREEN }, { label: 'C-O', box: ORANGE }] },
  notes: [
    { t: '532.7', x: 534.41, y: 24.5, s: 17, a: 'right' },
    { t: '531.5', x: 529.31, y: 24.8, s: 17 },
    { t: 'CDs-S-O1s', x: 525.35, y: 89.5, s: 20, b: true, a: 'right', c: '#111' }
  ],
  leaders: [{ p: [534.35, 25.2, 533.25, 25.2] }, { p: [530.82, 25, 529.5, 25] }],
  tag: { t: '(d2)', dx: -20, dy: -20, s: 25 },
  xt: { t: 'Binding Energy (eV)', dy: 52, s: 20.5 },
  yt: { t: 'Intensity (a.u.)', dx: 24, dy: 1, s: 20.5 }
});

// (d3)
xps('pd3', [731, 652, 1022, 845], { min: 390, max: 410, step: 5, major: 5, size: 18 },
  d3Raw, d3Fit, d3Bg, [[d3NC, GREEN], [d3NH, PEACH]], {
  legend: { lx: [9, 29], bx: [8, 31], bh: 12, tx: 41, s: 15.5, rows: [89.1, 78.4, 69, 55.7, 41.4],
    items: [RAW, FIT, BG, { label: 'N-C', box: GREEN }, { label: 'N-H', box: PEACH }] },
  notes: [
    { t: '400.1', x: 403.75, y: 24.7, s: 16, a: 'right' },
    { t: '399.6', x: 396.76, y: 24.7, s: 16 },
    { t: 'CDs-S-N1s', x: 390.69, y: 90.5, s: 20, b: true, a: 'right', c: '#111' }
  ],
  leaders: [{ p: [403.4, 24.7, 401.8, 24.7] }, { p: [398.94, 24.7, 397.2, 24.7] }],
  tag: { t: '(d3)', dx: -16, dy: -24, s: 25 },
  xt: { t: 'Binding Energy (eV)', dy: 45, s: 18.5 },
  yt: { t: 'Intensity (a.u.)', dx: 18, dy: 8, s: 23 }
});

// (e)
make('pe', [1108, 662, 1368, 842], [
  line(ftT, '#2424e0', 1.3, true),
  line(ftS, '#f49a9a', 1.3, true),
  line(ftE, '#1e9e1e', 1.3, true)
], { min: 500, max: 4000, step: 500, major: 1000, size: 15 }, true, {
  notes: [
    { t: 'CDs-T', x: 2408, y: 84.3, s: 15, b: true, c: '#2424e0' },
    { t: 'CDs-S', x: 2408, y: 71.4, s: 15, b: true, c: '#f49a9a' },
    { t: 'CDs-E', x: 2408, y: 58.9, s: 15, b: true, c: '#1e9e1e' }
  ],
  arrows: ftArrows,
  tag: { t: '(e)', dx: -48, dy: -33, s: 25 },
  xt: { parts: [{ t: 'Wavenumber (cm' }, { t: '-1', s: 12, dy: -7 }, { t: ')' }], dy: 51, s: 18 },
  yt: { t: 'Transmittance (%)', dx: 45, dy: 11, s: 17 }
});
</script>
</body>
</html>
